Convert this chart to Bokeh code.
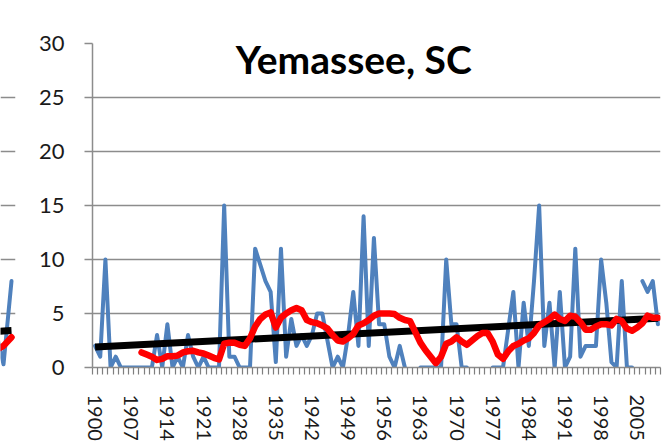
from bokeh.plotting import figure
from bokeh.models import FixedTicker, Label, Range1d, Grid
from bokeh.layouts import row
from bokeh.embed import file_html
from bokeh.resources import INLINE

nan = float("nan")

# ---------------- data ----------------
years = list(range(1900, 2010))
annual_values = [
    2, 1, 10, 0, 1, 0, 0, 0, 0, 0,
    0, 0, 3, 0, 4, 0, 1, 0, 3, 1,
    0, 1, 0, 0, 0, 15, 1, 1, 0, 0,
    0, 11, 9.5, 8, 7, 0.5, 11, 1, 4.5, 2,
    3, 2, 3, 5, 5, 2.5, 0, 1, 0, 3,
    7, 2, 14, 2, 12, 4, 4, 1, 0, 2,
    0, nan, nan, 0, 0, 0, 0, 0, 10, 4,
    4, 0, 0, nan, nan, nan, nan, 0, 0, 0,
    3.5, 7, 0, 6, 2, 8, 15, 2, 6, 0,
    7, 0, 1, 11, 1, 2, 2, 2, 10, 6,
    0.5, 0, 8, 0, 0, nan, 8, 7, 8, 4,
]
moving_avg_years = list(range(1909, 2010))
moving_avg = [
    1.4, 1.2, 1.0, 0.7, 0.8, 1.05, 1.05, 1.1, 1.4, 1.5, 1.55, 1.4, 1.3, 1.1, 0.9, 0.75,
    2.2, 2.3, 2.3, 2.1, 2.0, 2.7, 3.8, 4.5, 4.9, 5.1, 3.7, 4.6, 5.0, 5.3, 5.5, 5.3,
    4.4, 4.2, 4.1, 3.9, 3.6, 3.0, 2.5, 2.4, 2.7, 3.1, 3.9, 4.1, 4.4, 4.8, 5.0, 5.0,
    5.0, 4.95, 4.6, 4.4, 4.3, 3.3, 2.3, 1.6, 1.0, 0.4, 1.0, 2.2, 2.4, 2.8, 2.4, 2.1,
    2.5, 2.9, 3.2, 3.2, 2.4, 1.2, 0.8, 1.5, 2.0, 2.2, 2.5, 2.7, 3.2, 3.9, 4.2, 4.5,
    4.9, 4.5, 4.3, 4.8, 4.7, 4.2, 3.5, 3.5, 3.8, 4.0, 4.0, 3.9, 4.5, 4.3, 3.6, 3.4,
    3.7, 4.1, 4.8, 4.6, 4.6,
]
trend_years = [1900, 2009]
trend_values = [1.9, 4.55]

y_ticks = [0, 5, 10, 15, 20, 25, 30]
x_label_years = [1900, 1907, 1914, 1921, 1928, 1935, 1942, 1949, 1956, 1963,
                 1970, 1977, 1984, 1991, 1998, 2005]

# sliver of the neighbouring chart at the left edge
stub_years = [2007, 2008, 2009]
stub_values = [3.5, 0.3, 8]
stub_avg = [1.6, 2.0, 2.8]
stub_trend = [3.34, 3.38, 3.42]

title_text = "Yemassee, SC"

# ---------------- style ----------------
BLUE = "#4f81bd"
RED = "#ff0000"
GRID = "#8c8c8c"
TICK = "#7f7f7f"
TEXT = "#1a1a1a"
FONT = "Lato"

H = 447
TOP, BOTTOM = 43, 80

# ---------- left sliver ----------
stub = figure(width=16, height=H, output_backend="svg", toolbar_location=None,
              x_axis_type=None, y_axis_type=None,
              x_range=Range1d(2007.625, 2009.5), y_range=Range1d(0, 30),
              min_border_left=0, min_border_right=1,
              min_border_top=TOP, min_border_bottom=BOTTOM)
stub.outline_line_color = None
stub.background_fill_color = "white"
stub.border_fill_color = "white"
stub.add_layout(Grid(dimension=1, ticker=FixedTicker(ticks=y_ticks),
                     grid_line_color=GRID, grid_line_width=1.5))
stub.line(stub_years, stub_values, line_color=BLUE, line_width=4,
          line_join="round", line_cap="round")
stub.line(stub_years, stub_trend, line_color="black", line_width=7)
stub.line(stub_years, stub_avg, line_color=RED, line_width=6.5,
          line_join="round", line_cap="round")

# ---------- main chart ----------
p = figure(width=647, height=H, output_backend="svg", toolbar_location=None,
           x_range=Range1d(years[0] - 0.5, years[-1] + 0.5),
           y_range=Range1d(0, 30),
           min_border_left=76, min_border_right=3,
           min_border_top=TOP, min_border_bottom=BOTTOM)
p.outline_line_color = None
p.background_fill_color = "white"
p.border_fill_color = "white"

p.yaxis.ticker = FixedTicker(ticks=y_ticks)
p.yaxis.axis_line_color = GRID
p.yaxis.axis_line_width = 1.5
p.yaxis.major_tick_line_color = GRID
p.yaxis.major_tick_line_width = 1.5
p.yaxis.major_tick_out = 8
p.yaxis.major_tick_in = 0
p.yaxis.minor_tick_line_color = None
p.yaxis.major_label_text_font = FONT
p.yaxis.major_label_text_font_size = "22px"
p.yaxis.major_label_text_color = TEXT
p.yaxis.major_label_standoff = 20

boundaries = [y - 0.5 for y in years] + [years[-1] + 0.5]
p.xaxis.ticker = FixedTicker(ticks=x_label_years, minor_ticks=boundaries)
p.xaxis.axis_line_color = GRID
p.xaxis.axis_line_width = 1.5
p.xaxis.major_tick_line_color = None
p.xaxis.major_tick_out = 0
p.xaxis.major_tick_in = 0
p.xaxis.minor_tick_line_color = TICK
p.xaxis.minor_tick_line_width = 1.2
p.xaxis.minor_tick_out = 7
p.xaxis.minor_tick_in = 0
p.xaxis.major_label_orientation = "vertical"
p.xaxis.major_label_text_font = FONT
p.xaxis.major_label_text_font_size = "20px"
p.xaxis.major_label_text_color = TEXT
p.xaxis.major_label_standoff = 20

p.xgrid.visible = False
p.ygrid.ticker = FixedTicker(ticks=y_ticks)
p.ygrid.grid_line_color = GRID
p.ygrid.grid_line_width = 1.5

p.line(years, annual_values, line_color=BLUE, line_width=4,
       line_join="round", line_cap="round")
p.line(trend_years, trend_values, line_color="black", line_width=7)
p.line(moving_avg_years, moving_avg, line_color=RED, line_width=6.5,
       line_join="round", line_cap="round")

p.add_layout(Label(x=1950.1, y=28.6, text=title_text, text_font=FONT,
                   text_font_style="bold", text_font_size="39px",
                   text_align="center", text_baseline="alphabetic",
                   text_color="black"))

layout = row(stub, p)
open("out.html", "w").write(file_html(layout, INLINE))
